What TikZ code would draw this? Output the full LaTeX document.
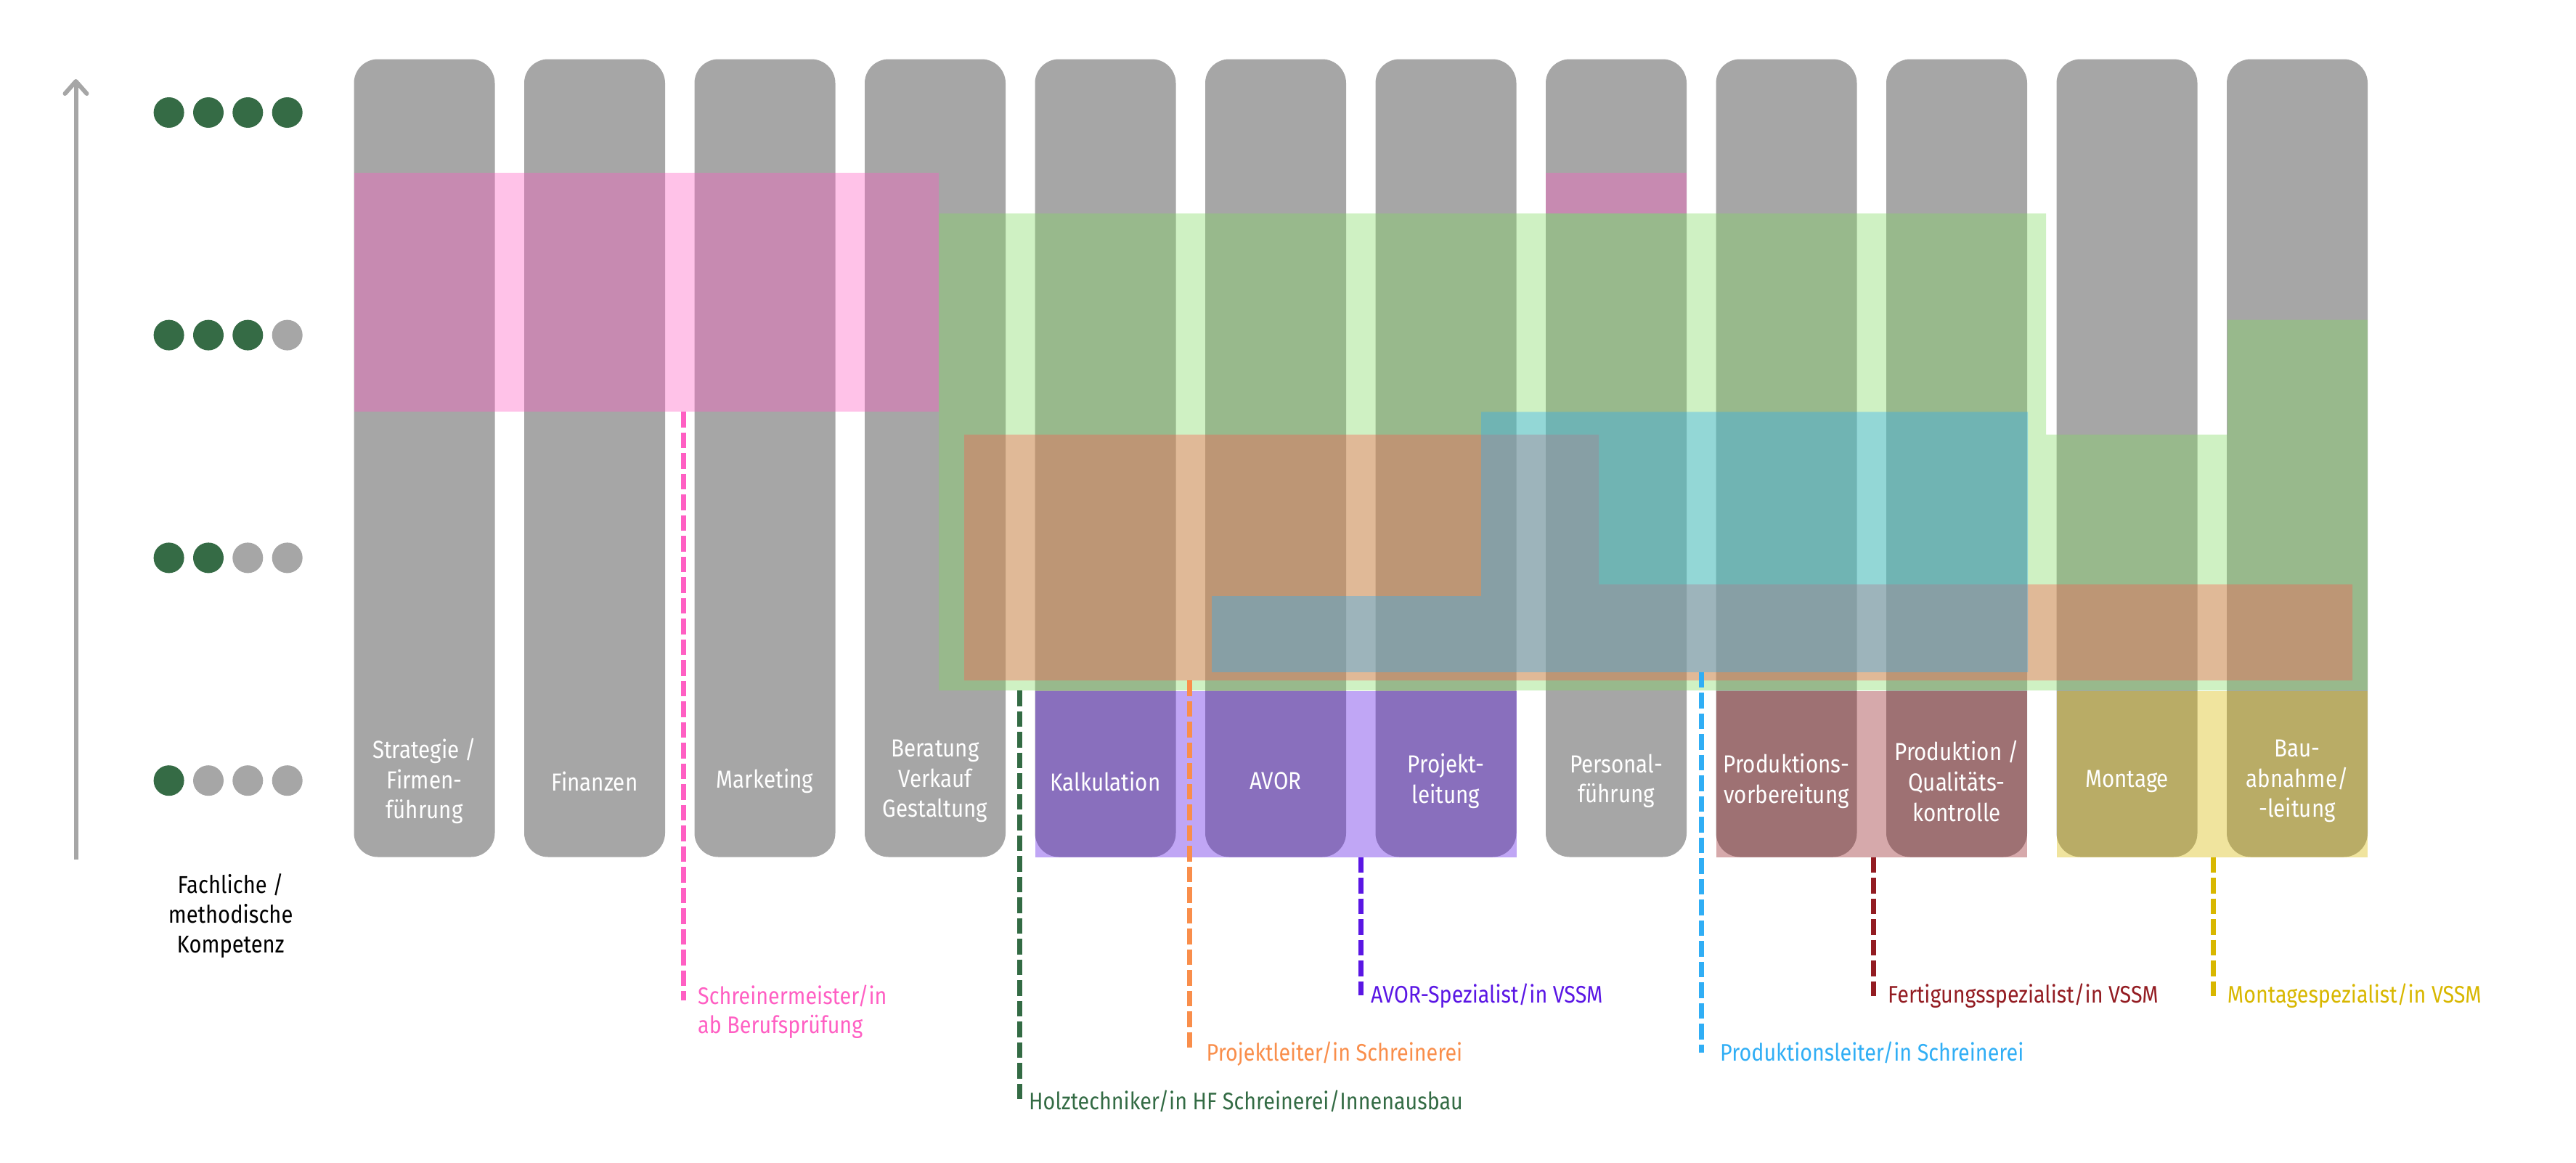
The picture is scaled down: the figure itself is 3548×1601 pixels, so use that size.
\documentclass[tikz,border=0pt]{standalone}
\usepackage{fontspec}
\setmainfont[FakeStretch=0.87]{Fira Sans}
\usetikzlibrary{arrows.meta}
\definecolor{colgray}{HTML}{A6A6A6}
\definecolor{dotgreen}{HTML}{356B45}
\definecolor{pinkc}{HTML}{FF5FC3}
\definecolor{greenfill}{HTML}{82D962}
\definecolor{dgreenc}{HTML}{336B44}
\definecolor{orangefill}{HTML}{FA5F50}
\definecolor{orangec}{HTML}{F98E4B}
\definecolor{bluec}{HTML}{30AEF5}
\definecolor{purplec}{HTML}{5A16E4}
\definecolor{redc}{HTML}{931C22}
\definecolor{yellowc}{HTML}{D8B700}
\begin{document}
\begin{tikzpicture}[x=1pt,y=-1pt,
  colbox/.style={draw=none,fill=colgray,rounded corners=33pt,minimum width=194pt,minimum height=1099pt,inner sep=0pt},
  coltext/.style={text=white,align=center,font=\fontsize{34}{41.7}\selectfont,inner sep=0pt},
  lbl/.style={anchor=base west,inner sep=0pt,align=left,font=\fontsize{33}{40.5}\selectfont},
  dotnode/.style={circle,minimum size=42pt,inner sep=0pt,draw=none},
  ov/.style={fill opacity=0.38,draw=none},
  dashline/.style={line width=7pt,dash pattern=on 21.5pt off 7pt},
]
\useasboundingbox (0,0) rectangle (3548,1601);

% axis arrow
\coordinate (axb) at (104.5,1184);
\coordinate (axt) at (104.5,109);
\draw[colgray,line width=6pt,-{Straight Barb[length=17pt,width=30pt,round]}] (axb) -- (axt);

% competence dots
\foreach \row/\yy/\n in {1/155/4,2/461.6/3,3/768.4/2,4/1075.2/1}{
  \foreach \j/\xx in {1/232.6,2/287,3/341.3,4/395.7}{
    \ifnum\j>\n \def\dc{colgray}\else\def\dc{dotgreen}\fi
    \node[dotnode,fill=\dc] (d\row\j) at (\xx,\yy) {};
  }
}
\node[align=center,inner sep=0pt,font=\fontsize{33.5}{41}\selectfont] (axlabel) at (317.6,1262) {Fachliche /\\methodische\\Kompetenz};

% columns
\node[colbox] (c1) at (584.5,631) {};
\node[colbox] (c2) at (819,631) {};
\node[colbox] (c3) at (1053.5,631) {};
\node[colbox] (c4) at (1288,631) {};
\node[colbox] (c5) at (1522.5,631) {};
\node[colbox] (c6) at (1757,631) {};
\node[colbox] (c7) at (1991.5,631) {};
\node[colbox] (c8) at (2226,631) {};
\node[colbox] (c9) at (2460.5,631) {};
\node[colbox] (c10) at (2695,631) {};
\node[colbox] (c11) at (2929.5,631) {};
\node[colbox] (c12) at (3164,631) {};

% overlays
\fill[pinkc,ov] (487.5,237.5) rectangle (1293,567);
\fill[pinkc,ov] (2129,237.5) rectangle (2323,294);
\fill[greenfill,ov] (1293,294) -- (2818,294) -- (2818,598.7) -- (3068,598.7) -- (3068,440.6) -- (3261,440.6) -- (3261,951) -- (1293,951) -- cycle;
\fill[orangefill,ov] (1328,598.7) -- (2202,598.7) -- (2202,805.2) -- (3240,805.2) -- (3240,937.3) -- (1328,937.3) -- cycle;
\fill[bluec,ov] (2040,567.4) -- (2793,567.4) -- (2793,925.8) -- (1669,925.8) -- (1669,821.2) -- (2040,821.2) -- cycle;
\fill[purplec,ov] (1425.5,952) rectangle (2088.5,1180.5);
\fill[redc,ov] (2363.5,952) rectangle (2792,1180.5);
\fill[yellowc,ov] (2832.5,952) rectangle (3261,1180.5);

% column texts
\node[coltext] (t1) at (584.5,1076) {Strategie /\\Firmen-\\führung};
\node[coltext] (t2) at (819,1076) {Finanzen};
\node[coltext] (t3) at (1053.5,1076) {Marketing};
\node[coltext] (t4) at (1288,1076) {Beratung\\Verkauf\\Gestaltung};
\node[coltext] (t5) at (1522.5,1076) {Kalkulation};
\node[coltext] (t6) at (1757,1076) {AVOR};
\node[coltext] (t7) at (1991.5,1076) {Projekt-\\leitung};
\node[coltext] (t8) at (2226,1076) {Personal-\\führung};
\node[coltext] (t9) at (2460.5,1076) {Produktions-\\vorbereitung};
\node[coltext] (t10) at (2695,1076) {Produktion /\\Qualitäts-\\kontrolle};
\node[coltext] (t11) at (2929.5,1076) {Montage};
\node[coltext] (t12) at (3164,1076) {Bau-\\abnahme/\\-leitung};

% dashed connectors
\coordinate (pkA) at (941.3,567);   \coordinate (pkB) at (941.3,1378);
\coordinate (grA) at (1404.3,951);  \coordinate (grB) at (1404.3,1517);
\coordinate (orA) at (1638.5,937.3);\coordinate (orB) at (1638.5,1450);
\coordinate (puA) at (1874,1180.5); \coordinate (puB) at (1874,1371);
\coordinate (blA) at (2343.4,925.8);\coordinate (blB) at (2343.4,1450);
\coordinate (rdA) at (2580.8,1180.5);\coordinate (rdB) at (2580.8,1372);
\coordinate (ylA) at (3048,1180.5); \coordinate (ylB) at (3048,1372);
\draw[dashline,pinkc] (pkA) -- (pkB);
\draw[dashline,dgreenc] (grA) -- (grB);
\draw[dashline,orangec] (orA) -- (orB);
\draw[dashline,purplec] (puA) -- (puB);
\draw[dashline,bluec] (blA) -- (blB);
\draw[dashline,redc] (rdA) -- (rdB);
\draw[dashline,yellowc] (ylA) -- (ylB);

% labels
\node[lbl,text=pinkc] (lpk) at (961,1423.5) {Schreinermeister/in\\ab Berufsprüfung};
\node[lbl,text=dgreenc] (lgr) at (1417,1528) {Holztechniker/in HF Schreinerei/Innenausbau};
\node[lbl,text=orangec] (lor) at (1661.5,1461) {Projektleiter/in Schreinerei};
\node[lbl,text=purplec] (lpu) at (1888,1381) {AVOR-Spezialist/in VSSM};
\node[lbl,text=bluec] (lbl2) at (2369,1461) {Produktionsleiter/in Schreinerei};
\node[lbl,text=redc] (lrd) at (2600,1381) {Fertigungsspezialist/in VSSM};
\node[lbl,text=yellowc] (lyl) at (3067.7,1381) {Montagespezialist/in VSSM};
\end{tikzpicture}
\end{document}
